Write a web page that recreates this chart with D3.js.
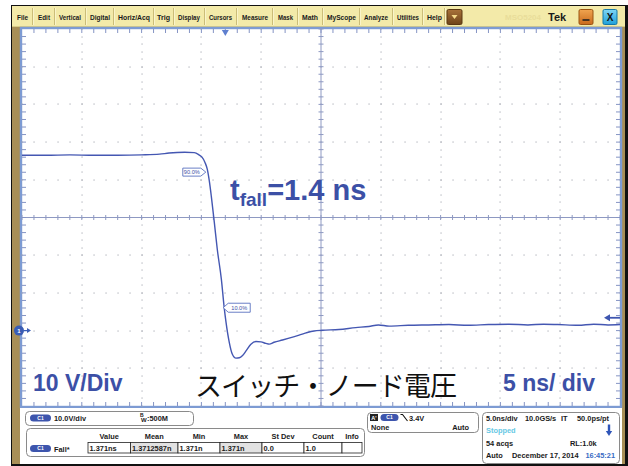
<!DOCTYPE html>
<html><head><meta charset="utf-8">
<script src="https://cdn.jsdelivr.net/npm/d3@7"></script>
<style>html,body{margin:0;padding:0;background:#fff;}svg{display:block;}</style>
</head><body><svg id="scope" width="628" height="466"></svg>
<script>
// Channel 1 switch-node waveform: time in ns relative to trigger, voltage in V
const timeNs = [-17.0,-15.0,-13.0,-11.0,-9.0,-7.0,-5.5,-4.7,-3.4,-2.6,-2.2,-1.95,-1.7,-1.5,-1.33,-1.17,-0.92,-0.67,-0.33,-0.08,0.06,0.33,0.58,0.89,1.17,1.42,1.73,2.14,2.56,2.98,3.39,3.67,4.08,4.78,5.33,6.17,6.86,7.42,8.11,9.5,10.9,12.0,12.8,13.7,15.3,17.0,18.7,20.3,22.0,23.7,25.3,26.6,27.8,29.5,30.8,32.0,33.0];
const voltsV = [46.5,46.5,46.6,46.5,46.5,46.6,46.8,47.1,47.3,47.2,46.6,46.0,44.6,42.7,39.5,35.6,28.7,21.5,13.6,5.7,2.2,-3.1,-6.2,-7.3,-7.2,-6.7,-5.4,-3.6,-2.9,-3.0,-3.4,-3.6,-3.1,-2.5,-2.0,-1.2,-0.5,-0.1,0.1,0.3,0.8,1.1,1.5,1.2,1.4,1.5,1.6,1.4,1.6,1.7,1.5,1.7,1.6,1.4,1.7,1.5,1.6];

const timeDomain = [-17, 33];   // 10 div x 5 ns/div
const voltDomain = [-20, 80];   // 10 div x 10 V/div, ground 3 div below centre
const triggerLevel = 3.4;
const refPercents = [90, 10];

const menuItems = ["File","Edit","Vertical","Digital","Horiz/Acq","Trig","Display","Cursors","Measure","Mask","Math","MyScope","Analyze","Utilities","Help"];
const measHeaders = ["Value","Mean","Min","Max","St Dev","Count","Info"];
const measValues = ["1.371ns","1.3712587n","1.371n","1.371n","0.0","1.0",""];

const svg = d3.select("#scope");
const SANS = "'Liberation Sans', Arial, sans-serif";
const BLUE = "#3c50a6";

// frame
svg.append("rect").attr("x",0).attr("y",0).attr("width",628).attr("height",466).attr("fill","#fff");
svg.append("rect").attr("x",11).attr("y",5).attr("width",617).attr("height",461).attr("fill","#111");
svg.append("rect").attr("x",12).attr("y",6).attr("width",613).attr("height",458).attr("fill","#a88f57");

// menu bar
svg.append("rect").attr("x",12).attr("y",6).attr("width",613).attr("height",21).attr("fill","#f3eaa9");
svg.append("line").attr("x1",12).attr("x2",625).attr("y1",26.5).attr("y2",26.5).attr("stroke","#d9cc86");
const menuStart = [17,38,59,90,118,157,178,209,242,278,302,327,364,397,427];
const menuEnd   = [28,50,81,110,150,170,200,232,268,293,318,356,388,419,442];
const menu = svg.append("g").attr("font-family",SANS).attr("font-weight","bold").attr("font-size",7.8).attr("fill","#1a1a1a");
menuItems.forEach((m,i) => {
  menu.append("text").attr("x",menuStart[i]).attr("y",20.3)
    .attr("textLength",menuEnd[i]-menuStart[i]).attr("lengthAdjust","spacingAndGlyphs").text(m);
  const sx = i < menuItems.length - 1 ? Math.round((menuEnd[i] + menuStart[i+1]) / 2) - 0.5 : 444.5;
  menu.append("line").attr("x1",sx).attr("x2",sx).attr("y1",8).attr("y2",25).attr("stroke","#cbbd78").attr("stroke-width",1);
  menu.append("line").attr("x1",sx+1).attr("x2",sx+1).attr("y1",8).attr("y2",25).attr("stroke","#fbf6d2").attr("stroke-width",0.8);
});
// window buttons
const dd = svg.append("defs");
const gBrown = dd.append("linearGradient").attr("id","gBrown").attr("x1",0).attr("y1",0).attr("x2",0).attr("y2",1);
gBrown.append("stop").attr("offset",0).attr("stop-color","#a9723a");
gBrown.append("stop").attr("offset",1).attr("stop-color","#6e4419");
const gOrange = dd.append("linearGradient").attr("id","gOrange").attr("x1",0).attr("y1",0).attr("x2",0).attr("y2",1);
gOrange.append("stop").attr("offset",0).attr("stop-color","#f0a550");
gOrange.append("stop").attr("offset",1).attr("stop-color","#c96a1c");
const gBlue = dd.append("linearGradient").attr("id","gBlue").attr("x1",0).attr("y1",0).attr("x2",0).attr("y2",1);
gBlue.append("stop").attr("offset",0).attr("stop-color","#7fd6f5");
gBlue.append("stop").attr("offset",1).attr("stop-color","#1f9fd8");

svg.append("rect").attr("x",447).attr("y",9.5).attr("width",15).attr("height",15).attr("rx",1.5).attr("fill","url(#gBrown)").attr("stroke","#5a3812");
svg.append("path").attr("d","M451.5,15 L457.5,15 L454.5,19 Z").attr("fill","#f5d98a");
svg.append("text").attr("x",505).attr("y",20).attr("font-family",SANS).attr("font-weight","bold").attr("font-size",8).attr("fill","#e9dd9a").text("MSO5204");
svg.append("text").attr("x",548).attr("y",21).attr("font-family",SANS).attr("font-weight","bold").attr("font-size",11).attr("fill","#1a1a1a").text("Tek");
svg.append("rect").attr("x",579).attr("y",9.5).attr("width",14).attr("height",15).attr("rx",1.5).attr("fill","url(#gOrange)").attr("stroke","#9a5412");
svg.append("line").attr("x1",582.5).attr("x2",589.5).attr("y1",20).attr("y2",20).attr("stroke","#222").attr("stroke-width",1.6);
svg.append("rect").attr("x",603).attr("y",9.5).attr("width",14).attr("height",15).attr("rx",1.5).attr("fill","url(#gBlue)").attr("stroke","#1478a8");
svg.append("text").attr("x",610).attr("y",21).attr("text-anchor","middle").attr("font-family",SANS).attr("font-weight","bold").attr("font-size",10).attr("fill","#111").text("X");

// graticule area
const L = 22, R = 620, T = 29, B = 406;
const xs = d3.scaleLinear().domain(timeDomain).range([L, R]);
const ys = d3.scaleLinear().domain(voltDomain).range([B, T]);

svg.append("rect").attr("x",L-1).attr("y",T-1).attr("width",R-L+2).attr("height",B-T+2)
  .attr("fill","#fff").attr("stroke","#7d9bd3").attr("stroke-width",2.4);

const xMajor = d3.range(0, 11).map(i => timeDomain[0] + i * 5);
const yMajor = d3.range(0, 11).map(i => voltDomain[0] + i * 10);
const xMinor = d3.range(0, 51).map(i => timeDomain[0] + i);
const yMinor = d3.range(0, 51).map(i => voltDomain[0] + i * 2);
const xMid = xMajor[5], yMid = yMajor[5];

const grid = svg.append("g");
// dotted division lines
xMajor.slice(1, 10).filter(v => v !== xMid).forEach(v => {
  yMinor.forEach(w => grid.append("rect").attr("x",Math.round(xs(v))-0.5).attr("y",Math.round(ys(w))-0.5).attr("width",1.1).attr("height",1.1).attr("fill","#a3a6b0"));
});
yMajor.slice(1, 10).filter(v => v !== yMid).forEach(v => {
  xMinor.forEach(w => grid.append("rect").attr("x",Math.round(xs(w))-0.5).attr("y",Math.round(ys(v))-0.5).attr("width",1.1).attr("height",1.1).attr("fill","#a3a6b0"));
});
// centre cross with minor ticks
const cx = xs(xMid), cy = ys(yMid);
grid.append("line").attr("x1",L).attr("x2",R).attr("y1",cy).attr("y2",cy).attr("stroke","#8e99c2").attr("stroke-width",1);
grid.append("line").attr("x1",cx).attr("x2",cx).attr("y1",T).attr("y2",B).attr("stroke","#8e99c2").attr("stroke-width",1);
xMinor.forEach(v => grid.append("line").attr("x1",xs(v)).attr("x2",xs(v)).attr("y1",cy-2.5).attr("y2",cy+2.5).attr("stroke","#8e99c2"));
yMinor.forEach(v => grid.append("line").attr("x1",cx-2.5).attr("x2",cx+2.5).attr("y1",ys(v)).attr("y2",ys(v)).attr("stroke","#8e99c2"));
// edge ticks
xMinor.slice(1, -1).forEach(v => {
  grid.append("line").attr("x1",xs(v)).attr("x2",xs(v)).attr("y1",T).attr("y2",T+4).attr("stroke","#8594c4");
  grid.append("line").attr("x1",xs(v)).attr("x2",xs(v)).attr("y1",B-4).attr("y2",B).attr("stroke","#8594c4");
});
yMinor.slice(1, -1).forEach(v => {
  grid.append("line").attr("x1",L).attr("x2",L+4).attr("y1",ys(v)).attr("y2",ys(v)).attr("stroke","#8594c4");
  grid.append("line").attr("x1",R-4).attr("x2",R).attr("y1",ys(v)).attr("y2",ys(v)).attr("stroke","#8594c4");
});

// trace
const pts = timeNs.map((t, i) => [t, voltsV[i]]);
svg.append("path").datum(pts)
  .attr("d", d3.line().x(d => xs(d[0])).y(d => ys(d[1])).curve(d3.curveMonotoneX))
  .attr("fill","none").attr("stroke","#4457b2").attr("stroke-width",1.4);

// reference-level tags (90 % / 10 %)
const high = d3.mean(voltsV.slice(0, 6));
const low = d3.mean(voltsV.slice(-10));
function crossing(level) {
  for (let i = 1; i < pts.length; i++) {
    const [t0, v0] = pts[i-1], [t1, v1] = pts[i];
    if ((v0 - level) * (v1 - level) <= 0 && v0 !== v1) return t0 + (level - v0) / (v1 - v0) * (t1 - t0);
  }
  return 0;
}
refPercents.forEach(p => {
  const lv = low + (high - low) * p / 100;
  const x0 = xs(crossing(lv)), y0 = ys(lv);
  const g = svg.append("g");
  let d, tx;
  if (p > 50) {
    const l = x0 - 25, br = x0 - 7, tip = x0 - 2;
    d = `M${l},${y0-4} H${br} L${tip},${y0} L${br},${y0+4} H${l} Z`; tx = (l + br) / 2;
  } else {
    const tip = x0 - 1, bl = x0 + 4, r = x0 + 26;
    d = `M${tip},${y0} L${bl},${y0-4.5} H${r} V${y0+4.5} H${bl} Z`; tx = (bl + r) / 2;
  }
  g.append("path").attr("d",d).attr("fill","#fff").attr("stroke","#5a72c0").attr("stroke-width",0.9);
  g.append("text").attr("x",tx).attr("y",y0+2).attr("text-anchor","middle").attr("font-family",SANS).attr("font-size",5.6).attr("fill",BLUE).text(p.toFixed(1) + "%");
});

// trigger position marker and level arrow
const tx0 = xs(0);
svg.append("path").attr("d",`M${tx0-3.5},${T+1} H${tx0+3.5} L${tx0},${T+7} Z`).attr("fill","#5f7fcf");
const ty = ys(triggerLevel);
svg.append("line").attr("x1",R-12).attr("x2",R).attr("y1",ty).attr("y2",ty).attr("stroke","#3e56b0").attr("stroke-width",1.8);
svg.append("path").attr("d",`M${R-16},${ty} L${R-10},${ty-3.5} L${R-10},${ty+3.5} Z`).attr("fill","#3e56b0");

// ground marker
const gy = ys(0);
svg.append("circle").attr("cx",19).attr("cy",gy).attr("r",5).attr("fill","#3a5db5");
svg.append("text").attr("x",19).attr("y",gy+2.2).attr("text-anchor","middle").attr("font-family",SANS).attr("font-weight","bold").attr("font-size",6).attr("fill","#fff").text("1");
svg.append("line").attr("x1",24).attr("x2",28).attr("y1",gy).attr("y2",gy).attr("stroke","#3a5db5").attr("stroke-width",1.2);
svg.append("path").attr("d",`M27,${gy-2.5} L31,${gy} L27,${gy+2.5} Z`).attr("fill","#3a5db5");

// annotations
const ann = svg.append("text").attr("x",230).attr("y",200).attr("font-family",SANS).attr("font-weight","bold").attr("fill",BLUE);
ann.append("tspan").attr("font-size",29).text("t");
ann.append("tspan").attr("font-size",19).attr("dy",6).text("fall");
ann.append("tspan").attr("font-size",29).attr("dy",-6).text("=1.4 ns");
svg.append("text").attr("x",33).attr("y",391).attr("font-family",SANS).attr("font-weight","bold").attr("font-size",23).attr("fill",BLUE).text("10 V/Div");
svg.append("text").attr("x",503).attr("y",391).attr("font-family",SANS).attr("font-weight","bold").attr("font-size",23).attr("fill",BLUE).text("5 ns/ div");
svg.append("text").attr("x",195).attr("y",396).attr("font-family","'Noto Sans CJK JP', sans-serif").attr("font-size",27)
  .attr("textLength",262).attr("lengthAdjust","spacing").attr("fill","#111").text("スイッチ・ノード電圧");

// bottom status panel
svg.append("rect").attr("x",20).attr("y",408).attr("width",602).attr("height",56).attr("fill","#fff");
const P = svg.append("g").attr("font-family",SANS).attr("font-weight","bold").attr("font-size",7.4).attr("fill","#1a1a1a");
function box(x, y, w, h) {
  P.append("rect").attr("x",x+0.5).attr("y",y+0.5).attr("width",w).attr("height",h).attr("rx",4).attr("fill","#fff").attr("stroke","#8a8a8a");
}
function pill(x, y, w) {
  P.append("rect").attr("x",x).attr("y",y).attr("width",w).attr("height",7).attr("rx",3.5).attr("fill","#3d55ad");
  P.append("text").attr("x",x + w/2).attr("y",y+5.3).attr("text-anchor","middle").attr("font-size",5).attr("fill","#fff").text("C1");
}
box(25, 411, 168, 14);
pill(30, 414.5, 21);
P.append("text").attr("x",54).attr("y",421).text("10.0V/div");
P.append("text").attr("x",140).attr("y",417).attr("font-size",5).text("B");
P.append("text").attr("x",141).attr("y",421.5).attr("font-size",6).text("W");
P.append("text").attr("x",147).attr("y",421).text(":500M");

box(26, 428, 338, 28);
const cellX = [88, 130.5, 178, 220, 262, 304, 342, 362];
measHeaders.forEach((h, i) => {
  P.append("text").attr("x",(cellX[i] + cellX[i+1]) / 2).attr("y",439).attr("text-anchor","middle").text(h);
});
pill(30, 445, 21);
P.append("text").attr("x",54).attr("y",451.5).text("Fall*");
measValues.forEach((v, i) => {
  P.append("rect").attr("x",cellX[i]).attr("y",442.5).attr("width",cellX[i+1]-cellX[i]).attr("height",10.5)
    .attr("fill", (i === 1 || i === 3) ? "#e2e2e2" : "#fff").attr("stroke","#222").attr("stroke-width",0.8);
  P.append("text").attr("x",cellX[i] + 1.5).attr("y",450.8).text(v);
});

box(367, 412, 111, 20);
P.append("rect").attr("x",370).attr("y",414).attr("width",8).attr("height",7).attr("fill","#222");
P.append("text").attr("x",374).attr("y",420).attr("text-anchor","middle").attr("font-size",5.5).attr("fill","#fff").text("A'");
pill(380.5, 414, 18);
P.append("path").attr("d","M400.5,414.5 H402.5 L407.5,421").attr("fill","none").attr("stroke","#111").attr("stroke-width",1.1);
P.append("text").attr("x",409).attr("y",420.5).text("3.4V");
P.append("text").attr("x",371).attr("y",430).text("None");
P.append("text").attr("x",469).attr("y",430).attr("text-anchor","end").text("Auto");

box(482, 412, 137, 51);
P.append("text").attr("x",486).attr("y",420.5).text("5.0ns/div");
P.append("text").attr("x",525).attr("y",420.5).text("10.0GS/s");
P.append("text").attr("x",561).attr("y",420.5).text("IT");
P.append("text").attr("x",577).attr("y",420.5).text("50.0ps/pt");
P.append("text").attr("x",486).attr("y",433).attr("fill","#66c8e4").text("Stopped");
P.append("rect").attr("x",607.8).attr("y",424.5).attr("width",2.4).attr("height",8).attr("fill","#2f55b8");
P.append("path").attr("d","M605.8,431 H612.2 L609,436 Z").attr("fill","#2f55b8");
P.append("text").attr("x",486).attr("y",445.5).text("54 acqs");
P.append("text").attr("x",570).attr("y",445.5).text("RL:1.0k");
P.append("text").attr("x",486).attr("y",457.5).text("Auto");
P.append("text").attr("x",512).attr("y",457.5).text("December 17, 2014");
P.append("text").attr("x",615).attr("y",457.5).attr("text-anchor","end").attr("fill","#3a6cc4").text("16:45:21");
</script></body></html>
